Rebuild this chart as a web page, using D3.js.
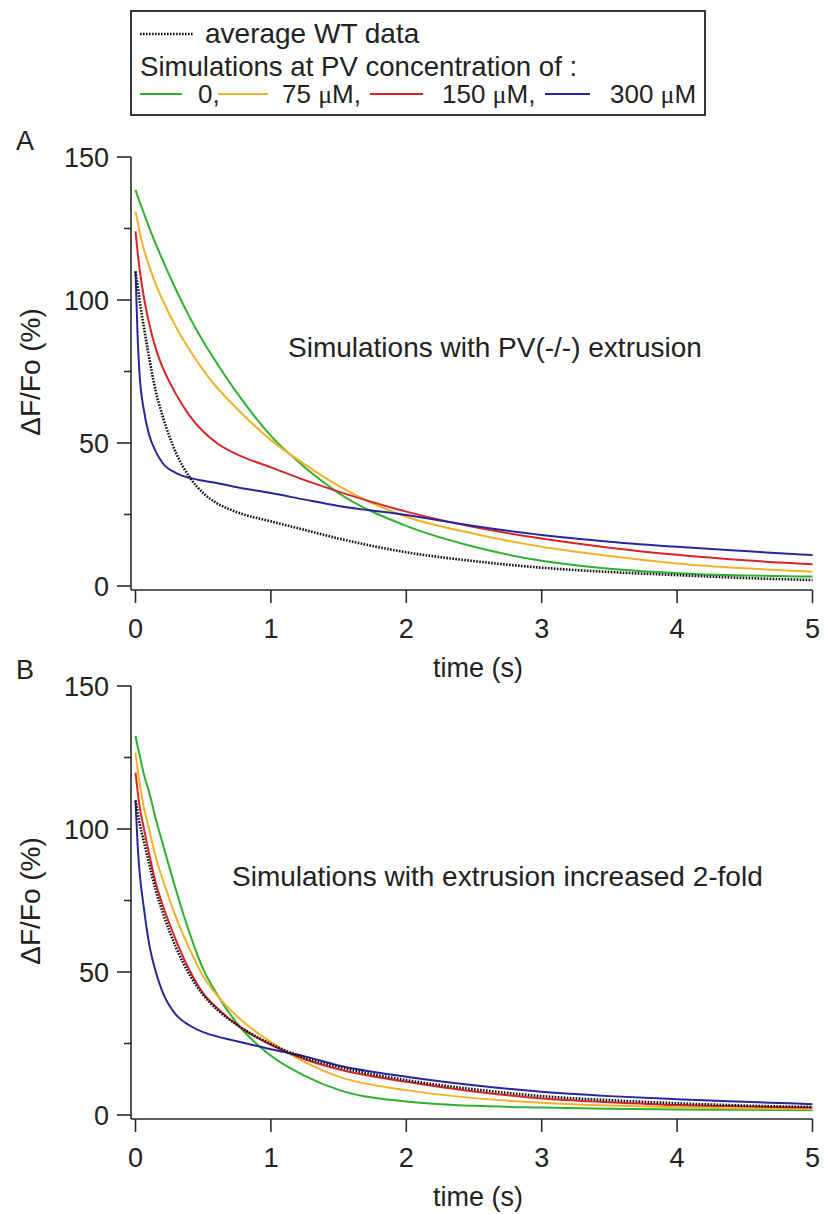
<!DOCTYPE html>
<html>
<head>
<meta charset="utf-8">
<script src="https://cdn.jsdelivr.net/npm/d3@7"></script>
<style>
  body { margin: 0; background: #fff; }
  svg { display: block; font-family: "Liberation Sans", Arial, sans-serif; }
</style>
</head>
<body>
<div class="canvas"></div>
<script>
// sample times (s), shared by every trace
const times = [0, 0.015, 0.03, 0.06, 0.1, 0.15, 0.2, 0.3, 0.4, 0.5, 0.6, 0.75, 1, 1.25, 1.5, 2, 2.5, 3, 3.5, 4, 4.5, 5];

// panel A : simulations with PV(-/-) extrusion
const wtA    = [110, 105, 100, 91, 80, 68, 59.5, 46.5, 38, 32.5, 29, 25.8, 22.6, 19.6, 16.6, 11.8, 8.7, 6.4, 4.9, 3.8, 2.8, 2.1];
const pv0A   = [138.5, 136.4, 134.4, 130.5, 125.5, 119.5, 114, 103.5, 94, 85.5, 78, 67.5, 52.5, 41.5, 32.5, 21, 13.7, 8.8, 6, 4.5, 3.7, 3.3];
const pv75A  = [131, 127.5, 124, 118, 112, 105.5, 100, 90.5, 82.5, 75.5, 69.5, 62, 51, 42.5, 35, 24.2, 18.3, 13.7, 10.5, 7.9, 6.2, 5];
const pv150A = [124, 117, 111, 101.5, 92, 83, 76.5, 67, 59.5, 54, 50, 46, 41.5, 37, 33, 26, 20.6, 16.6, 13.4, 10.9, 9, 7.6];
const pv300A = [110, 88, 74, 62, 53, 47, 43, 39.5, 37.8, 36.8, 36, 34.5, 32.5, 30.2, 28, 24.8, 21, 17.8, 15.5, 13.7, 12.2, 10.8];

// panel B : simulations with extrusion increased 2-fold
const wtB    = [110, 106, 102, 96, 88, 78.5, 71, 58.5, 49, 42, 37, 31.5, 24.8, 20, 16.8, 12.2, 9, 6.6, 5.2, 4.1, 3.3, 2.8];
const pv0B   = [132.5, 129, 126, 119.5, 113, 103.5, 95, 78.5, 63.5, 51, 42.4, 32, 20.7, 13.7, 8.8, 4.7, 3.2, 2.6, 2.2, 1.9, 1.8, 1.7];
const pv75B  = [126.7, 121, 116, 108, 100, 90, 82.5, 69, 58, 48.5, 42, 34.5, 25.5, 18.5, 13.4, 8.7, 5.9, 4.3, 3.3, 2.7, 2.3, 2];
const pv150B = [119.7, 113.5, 108, 100.6, 91.5, 81, 73.5, 61, 50.5, 42.5, 37.5, 31.5, 24.5, 19.5, 16, 11.6, 8.2, 5.8, 4.5, 3.5, 3, 2.6];
const pv300B = [110, 95, 85, 73, 60, 50, 43, 35, 31.3, 29, 27.5, 25.8, 23, 20.5, 17.3, 13.4, 10.4, 8.1, 6.6, 5.5, 4.6, 3.8];

const xTicks = [0, 1, 2, 3, 4, 5];
const yTicks = [0, 50, 100, 150];
const yMinor = [25, 75, 125];

const legendItems = [
  { label: "0,", color: "#2fb12f" },
  { label: "75 ", unit: "\u03bcM,", color: "#f0b22a" },
  { label: "150 ", unit: "\u03bcM,", color: "#d6252a" },
  { label: "300 ", unit: "\u03bcM", color: "#27269a" }
];

const svg = d3.select(".canvas")
  .append("svg")
  .attr("width", 827)
  .attr("height", 1214);

const axisColor = "#2a2a2a";
const textColor = "#222";

function drawPanel(top, lay, wt, series) {
  const g = svg.append("g");
  const x = d3.scaleLinear().domain([0, 5]).range([135.5, 812.5]);
  const y = d3.scaleLinear().domain([0, 150]).range([top + 429, top]);
  const axisX = 131;
  const axisY = top + 433;

  // y axis
  g.append("line")
    .attr("x1", axisX).attr("x2", axisX)
    .attr("y1", y(150)).attr("y2", axisY)
    .attr("stroke", axisColor).attr("stroke-width", 1.6);
  g.selectAll(".ymaj").data(yTicks).enter().append("line")
    .attr("x1", axisX - 14).attr("x2", axisX)
    .attr("y1", (d) => y(d)).attr("y2", (d) => y(d))
    .attr("stroke", axisColor).attr("stroke-width", 1.6);
  g.selectAll(".ymin").data(yMinor).enter().append("line")
    .attr("x1", axisX - 7).attr("x2", axisX)
    .attr("y1", (d) => y(d)).attr("y2", (d) => y(d))
    .attr("stroke", axisColor).attr("stroke-width", 1.6);
  g.selectAll(".ylab").data(yTicks).enter().append("text")
    .attr("x", axisX - 22).attr("y", (d) => y(d))
    .attr("dy", "0.36em")
    .attr("text-anchor", "end")
    .attr("font-size", 27)
    .attr("fill", textColor)
    .text((d) => d);

  // x axis
  g.append("line")
    .attr("x1", axisX).attr("x2", x(5))
    .attr("y1", axisY).attr("y2", axisY)
    .attr("stroke", axisColor).attr("stroke-width", 1.6);
  g.selectAll(".xmaj").data(xTicks).enter().append("line")
    .attr("x1", (d) => x(d)).attr("x2", (d) => x(d))
    .attr("y1", axisY).attr("y2", axisY + 13)
    .attr("stroke", axisColor).attr("stroke-width", 1.6);
  g.selectAll(".xlab").data(xTicks).enter().append("text")
    .attr("x", (d) => x(d)).attr("y", axisY + 38)
    .attr("dy", "0.36em")
    .attr("text-anchor", "middle")
    .attr("font-size", 27)
    .attr("fill", textColor)
    .text((d) => d);

  g.append("text")
    .attr("x", 478).attr("y", axisY + 77)
    .attr("dy", "0.36em")
    .attr("text-anchor", "middle")
    .attr("font-size", 27)
    .attr("fill", textColor)
    .text("time (s)");

  g.append("text")
    .attr("transform", `translate(30,${top + 215}) rotate(-90)`)
    .attr("dy", "0.36em")
    .attr("text-anchor", "middle")
    .attr("font-size", 28)
    .attr("fill", textColor)
    .text("\u0394F/Fo (%)");

  g.append("text")
    .attr("x", 16).attr("y", top - 17)
    .attr("dy", "0.36em")
    .attr("font-size", 27)
    .attr("fill", textColor)
    .text(lay.letter);

  g.append("text")
    .attr("x", lay.noteX).attr("y", top + 200)
    .attr("font-size", 28)
    .attr("fill", textColor)
    .text(lay.note);

  const line = d3.line()
    .x((d, i) => x(times[i]))
    .y((d) => y(d))
    .curve(d3.curveMonotoneX);

  series.forEach((s, k) => {
    g.append("path")
      .datum(s)
      .attr("d", line)
      .attr("fill", "none")
      .attr("stroke", legendItems[k].color)
      .attr("stroke-width", 2);
  });

  g.append("path")
    .datum(wt)
    .attr("d", line)
    .attr("fill", "none")
    .attr("stroke", "#111")
    .attr("stroke-width", 2.6)
    .attr("stroke-dasharray", "1.6,1.4");
}

drawPanel(157, { letter: "A", noteX: 288, note: "Simulations with PV(-/-) extrusion" },
  wtA, [pv0A, pv75A, pv150A, pv300A]);
drawPanel(686, { letter: "B", noteX: 232, note: "Simulations with extrusion increased 2-fold" },
  wtB, [pv0B, pv75B, pv150B, pv300B]);

// legend
const leg = svg.append("g");
leg.append("rect")
  .attr("x", 131).attr("y", 11)
  .attr("width", 574).attr("height", 104)
  .attr("fill", "none")
  .attr("stroke", "#222")
  .attr("stroke-width", 1.8);

leg.append("line")
  .attr("x1", 140).attr("x2", 193)
  .attr("y1", 34).attr("y2", 34)
  .attr("stroke", "#111").attr("stroke-width", 2.4)
  .attr("stroke-dasharray", "1.6,1.4");
leg.append("text")
  .attr("x", 205).attr("y", 33)
  .attr("dy", "0.36em")
  .attr("font-size", 28)
  .attr("fill", textColor)
  .text("average WT data");
leg.append("text")
  .attr("x", 140).attr("y", 66)
  .attr("dy", "0.36em")
  .attr("font-size", 27.6)
  .attr("fill", textColor)
  .text("Simulations at PV concentration of :");

const lineX0 = [140, 218, 370, 545];
const lineX1 = [182, 268, 423, 590];
const textX = [198, 282, 442, 610];
legendItems.forEach((d, i) => {
  leg.append("line")
    .attr("x1", lineX0[i]).attr("x2", lineX1[i])
    .attr("y1", 94).attr("y2", 94)
    .attr("stroke", d.color).attr("stroke-width", 2);
  const t = leg.append("text")
    .attr("x", textX[i]).attr("y", 94)
    .attr("dy", "0.36em")
    .attr("font-size", 26)
    .attr("fill", textColor);
  t.append("tspan").text(d.label);
  if (d.unit) {
    t.append("tspan").attr("font-family", "'Liberation Serif', serif").text(d.unit[0]);
    t.append("tspan").text(d.unit.slice(1));
  }
});
</script>
</body>
</html>
